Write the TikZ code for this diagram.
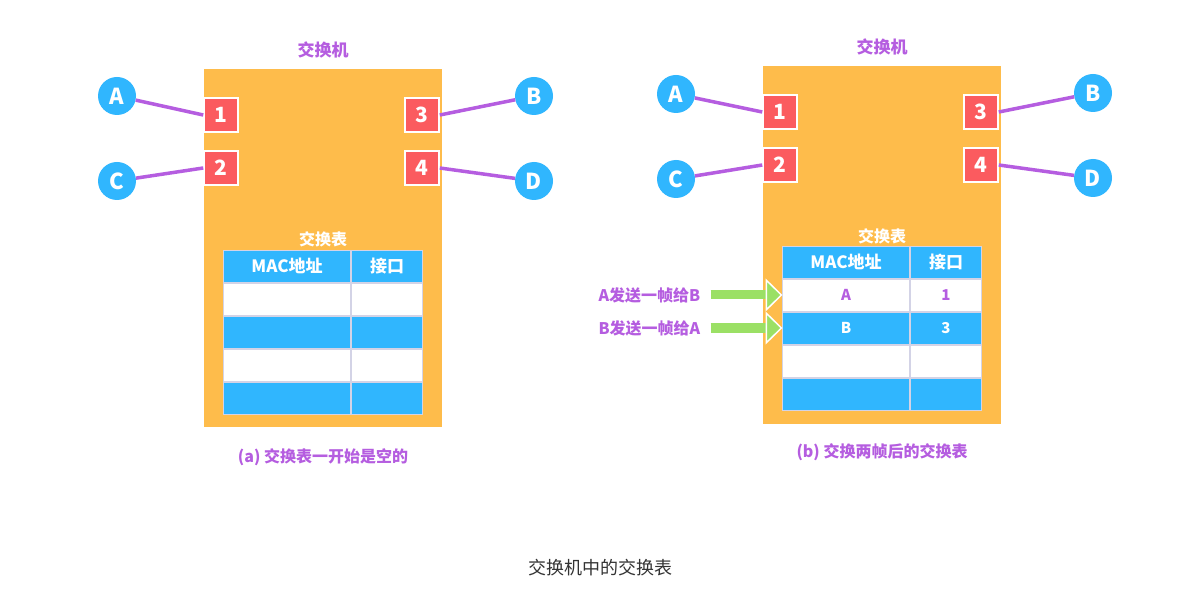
\documentclass[tikz,border=0pt]{standalone}
\usepackage{fontspec}
\setmainfont{Noto Sans CJK SC}
\usetikzlibrary{matrix,positioning,arrows.meta}
\definecolor{swbg}{HTML}{FEBC4B}
\definecolor{portred}{HTML}{FB5B5F}
\definecolor{hostblue}{HTML}{30B6FE}
\definecolor{linkpurple}{HTML}{B55DE0}
\definecolor{sendgreen}{HTML}{9BE065}
\definecolor{tblline}{HTML}{D3D3E6}
\definecolor{capgray}{HTML}{333333}
\tikzset{
  swbox/.style={fill=swbg, minimum width=238pt, minimum height=358pt, inner sep=0pt},
  hostnode/.style={circle, fill=hostblue, text=white, minimum size=38pt, inner sep=0pt,
    font=\bfseries\fontsize{22}{22}\selectfont},
  portbox/.style={fill=portred, draw=white, line width=1.5pt, text=white, minimum size=34pt,
    inner sep=0pt, font=\bfseries\fontsize{21}{21}\selectfont},
  linkline/.style={linkpurple, line width=3.5pt},
  swtitle/.style={text=linkpurple, font=\bfseries\fontsize{17}{17}\selectfont},
  tabtitle/.style={text=white, font=\bfseries\fontsize{16}{16}\selectfont},
  subcap/.style={text=linkpurple, font=\bfseries\fontsize{16}{16}\selectfont},
  msgtext/.style={text=linkpurple, inner sep=3pt, font=\bfseries\fontsize{16}{16}\selectfont},
  sendarrow/.style={sendgreen, line width=9pt, shorten <=7pt,
    -{Triangle[width=33pt,length=17pt,line width=1.5pt,color=white,fill=sendgreen]}},
  mactable/.style={matrix of nodes, inner sep=0pt, column sep=0pt, row sep=0pt, nodes in empty cells,
    nodes={draw=tblline, line width=1pt, fill=white, text=linkpurple, minimum height=32pt,
      inner sep=0pt, outer sep=0pt, anchor=center, font=\bfseries\fontsize{15}{15}\selectfont},
    column 1/.style={nodes={minimum width=127pt}},
    column 2/.style={nodes={minimum width=71pt}},
    row 1/.style={nodes={fill=hostblue, text=white, font=\bfseries\fontsize{17}{17}\selectfont}},
    row 3/.style={nodes={fill=hostblue, text=white}},
    row 5/.style={nodes={fill=hostblue, text=white}}},
}
\begin{document}
\begin{tikzpicture}[x=1pt,y=-1pt]
  \useasboundingbox[fill=white] (0,0) rectangle (1201,609);

  % (a) empty table
  \node[swtitle] (titlea) at (323,50) {交换机};
  \node[swbox] (swa) at (323,248) {};
  \node[portbox] (p1a) at (221,115) {1};
  \node[portbox] (p2a) at (221,168) {2};
  \node[portbox] (p3a) at (422,115) {3};
  \node[portbox] (p4a) at (422,168) {4};
  \node[hostnode] (Aa) at (117,96) {A};
  \node[hostnode] (Ca) at (117,181) {C};
  \node[hostnode] (Ba) at (534,96) {B};
  \node[hostnode] (Da) at (534,181) {D};
  \draw[linkline] (Aa) -- (p1a.west);
  \draw[linkline] (Ca) -- (p2a.west);
  \draw[linkline] (Ba) -- (p3a.east);
  \draw[linkline] (Da) -- (p4a.east);
  \node[tabtitle] (tabtitlea) at (323,239) {交换表};
  \matrix (taba) [mactable] at (323,332)
  {
    MAC地址 & 接口 \\
    & \\
    & \\
    & \\
    & \\
  };
  \node[subcap] (capa) at (323,457) {(a) 交换表一开始是空的};

  % (b) after two frames
  \node[swtitle] (titleb) at (882,47) {交换机};
  \node[swbox] (swb) at (882,245) {};
  \node[portbox] (p1b) at (780,112) {1};
  \node[portbox] (p2b) at (780,165) {2};
  \node[portbox] (p3b) at (981,112) {3};
  \node[portbox] (p4b) at (981,165) {4};
  \node[hostnode] (Ab) at (676,94) {A};
  \node[hostnode] (Cb) at (676,179) {C};
  \node[hostnode] (Bb) at (1093,93) {B};
  \node[hostnode] (Db) at (1093,178) {D};
  \draw[linkline] (Ab) -- (p1b.west);
  \draw[linkline] (Cb) -- (p2b.west);
  \draw[linkline] (Bb) -- (p3b.east);
  \draw[linkline] (Db) -- (p4b.east);
  \node[tabtitle] (tabtitleb) at (882,236) {交换表};
  \matrix (tabb) [mactable] at (882,328)
  {
    MAC地址 & 接口 \\
    A & 1 \\
    B & 3 \\
    & \\
    & \\
  };
  \node[msgtext, left=79pt of tabb-2-1.west] (msgab) {A发送一帧给B};
  \node[msgtext, left=79pt of tabb-3-1.west] (msgba) {B发送一帧给A};
  \draw[sendarrow] (msgab) -- (tabb-2-1.west);
  \draw[sendarrow] (msgba) -- (tabb-3-1.west);
  \node[subcap] (capb) at (882,452) {(b) 交换两帧后的交换表};

  \node[text=capgray, font=\fontsize{18}{18}\selectfont] (figcap) at (600,568) {交换机中的交换表};
\end{tikzpicture}
\end{document}
